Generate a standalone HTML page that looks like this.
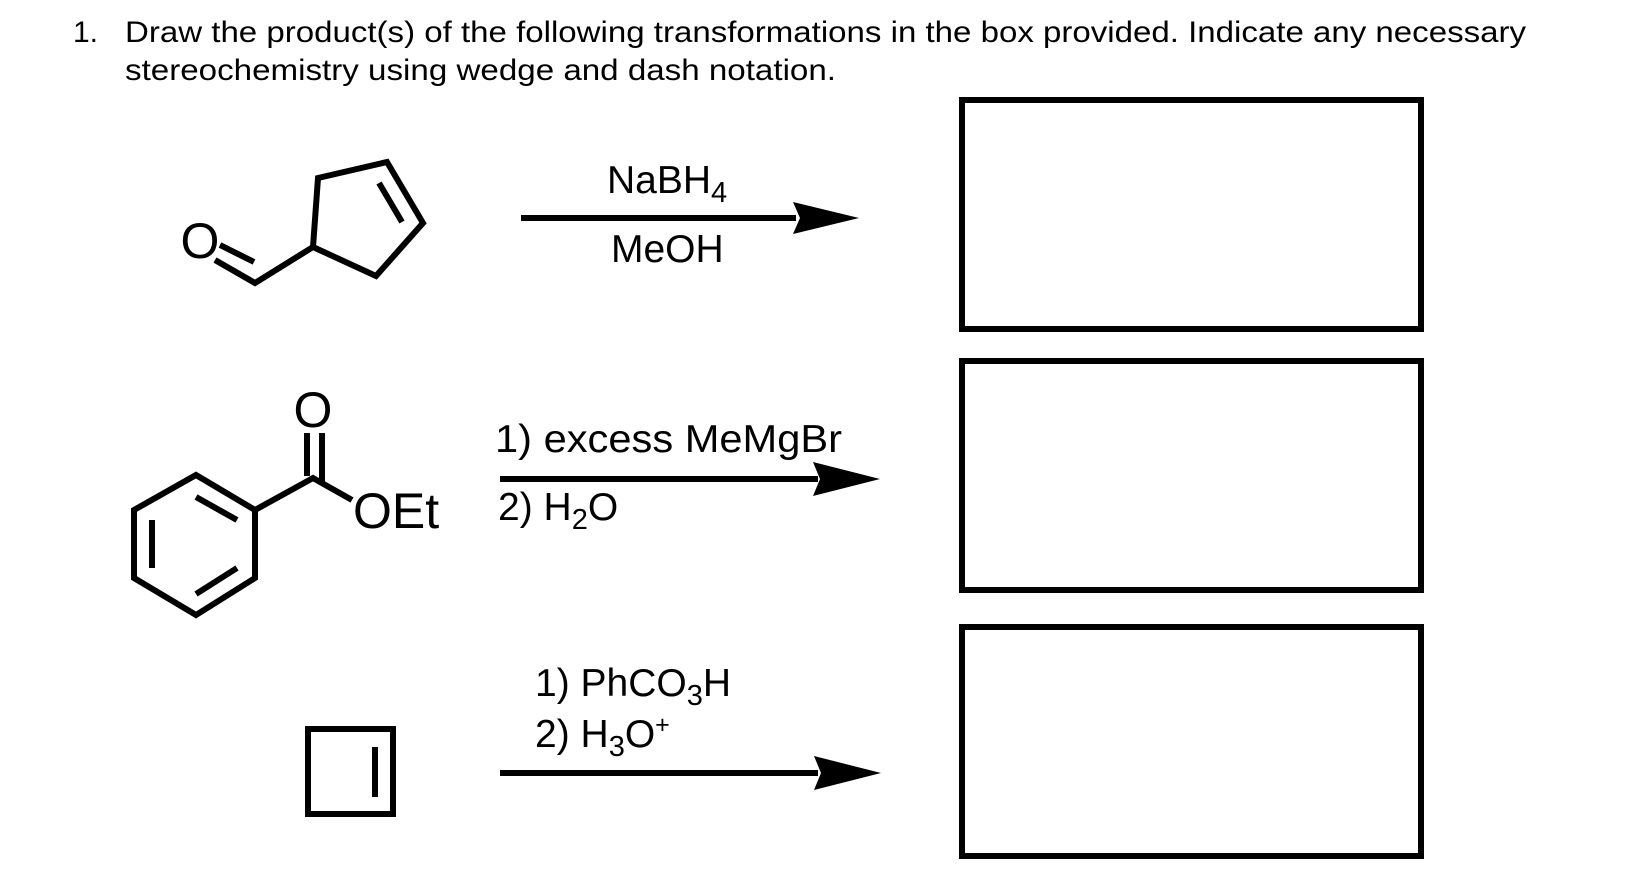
<!DOCTYPE html>
<html><head><meta charset="utf-8"><style>
html,body{margin:0;padding:0;background:#fff;}
svg{display:block;}
text{font-family:"Liberation Sans",Arial,sans-serif;fill:#000;}
</style></head><body>
<svg width="1636" height="874" viewBox="0 0 1636 874" xmlns="http://www.w3.org/2000/svg">
<text x="73" y="42" font-size="30">1.</text>
<text x="125" y="42" font-size="30" textLength="1401" lengthAdjust="spacingAndGlyphs">Draw the product(s) of the following transformations in the box provided. Indicate any necessary</text>
<text x="125" y="80" font-size="30" textLength="711" lengthAdjust="spacingAndGlyphs">stereochemistry using wedge and dash notation.</text>

<g fill="none" stroke="#000" stroke-width="6" stroke-linejoin="miter">
<rect x="962" y="100" width="459" height="229"/>
<rect x="962" y="361" width="459" height="229"/>
<rect x="962" y="627" width="459" height="229"/>
</g>

<g stroke="#000" stroke-width="6" fill="none" stroke-linejoin="miter">
<polygon points="318,178 387,162 423,223 376,276 313,247"/>
<line x1="379" y1="183" x2="402" y2="222"/>
<polyline points="313,247 255,283 215,260"/>
<line x1="220" y1="245" x2="254" y2="262"/>
<polygon points="196,475 255,510 255,578 196,615 134,578 134,510"/>
<line x1="196" y1="497" x2="237" y2="520"/>
<line x1="152" y1="520" x2="152" y2="568"/>
<line x1="196" y1="594" x2="237" y2="568"/>
<polyline points="255,510 313,478 352,500"/>
<line x1="307" y1="433" x2="307" y2="476"/>
<line x1="322" y1="433" x2="322" y2="484"/>
<rect x="308" y="729" width="85" height="85"/>
<line x1="375" y1="747" x2="375" y2="797"/>
</g>
<text x="200" y="258" font-size="50" text-anchor="middle">O</text>
<text x="313" y="427" font-size="50" text-anchor="middle">O</text>
<text x="353" y="528" font-size="50">OEt</text>

<g fill="#000">
<rect x="521" y="215" width="275" height="6"/>
<path d="M859,218 L793,202 L800,218 L793,234 Z"/>
<rect x="500" y="476" width="318" height="6"/>
<path d="M880,479 L813,462 L820,479 L813,496 Z"/>
<rect x="500" y="770" width="318" height="6"/>
<path d="M881,773 L814,756 L821,773 L814,790 Z"/>
</g>
<text x="607" y="193" font-size="39">NaBH<tspan font-size="29" dy="9">4</tspan></text>
<text x="611" y="262" font-size="39">MeOH</text>
<text x="495" y="452" font-size="39" textLength="347" lengthAdjust="spacingAndGlyphs">1) excess MeMgBr</text>
<text x="498" y="520" font-size="39">2) H<tspan font-size="29" dy="9">2</tspan><tspan dy="-9">O</tspan></text>
<text x="535" y="696" font-size="39">1) PhCO<tspan font-size="29" dy="9">3</tspan><tspan dy="-9">H</tspan></text>
<text x="535" y="747" font-size="39">2) H<tspan font-size="29" dy="9">3</tspan><tspan dy="-9">O</tspan><tspan font-size="25" dy="-14">+</tspan></text>
</svg>
</body></html>
